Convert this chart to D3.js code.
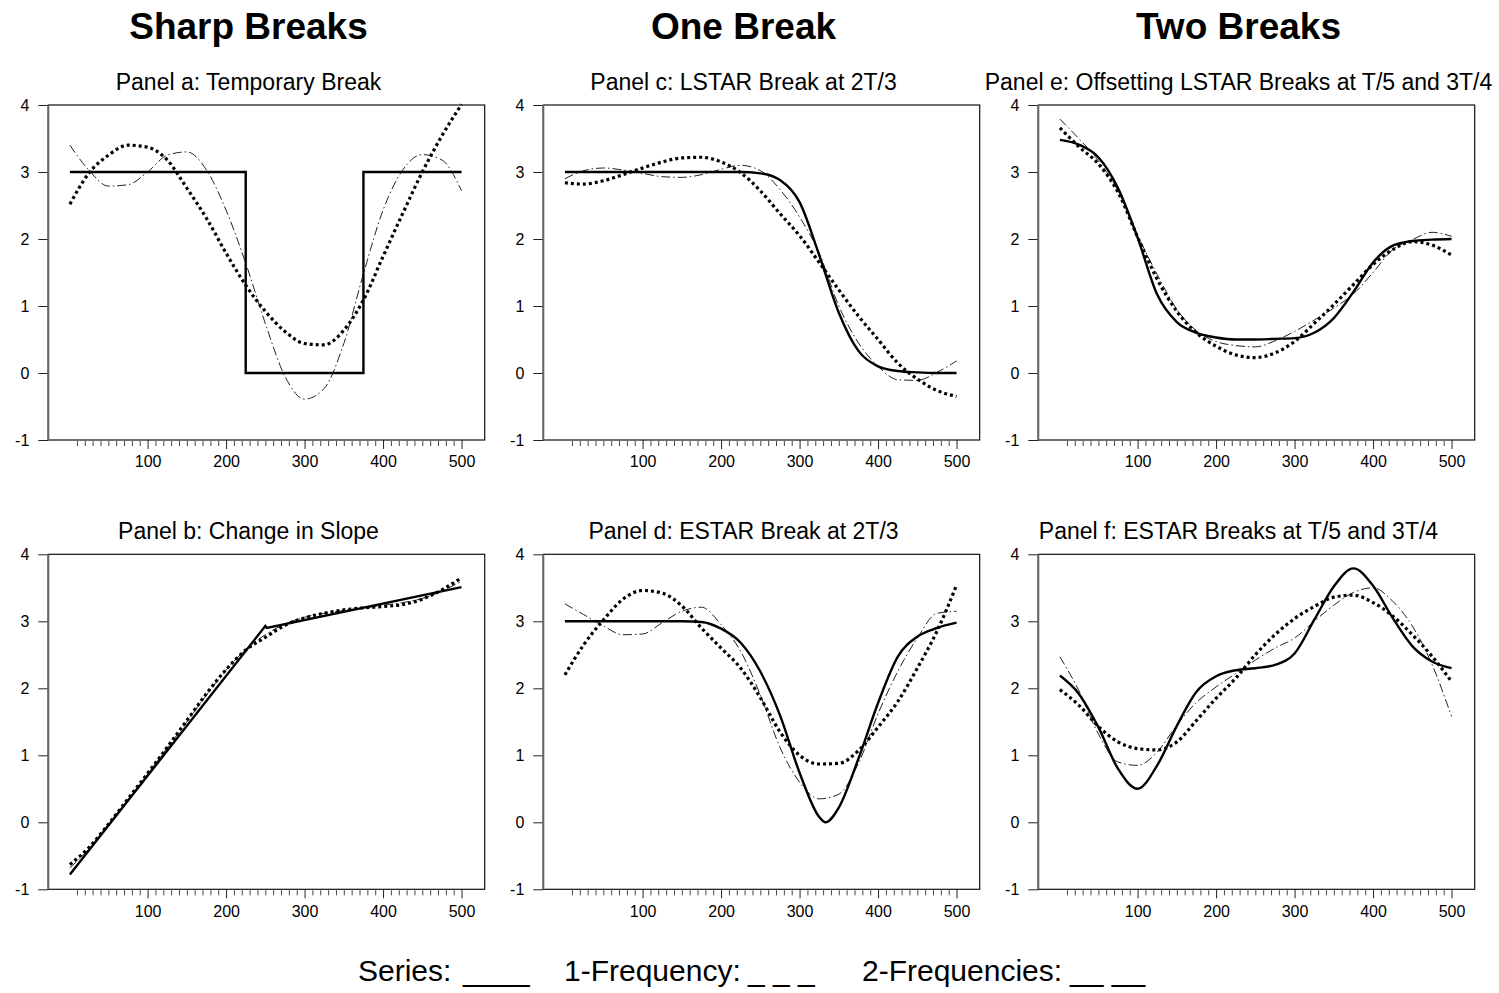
<!DOCTYPE html>
<html>
<head>
<meta charset="utf-8">
<script src="https://cdn.jsdelivr.net/npm/d3@7"></script>
<style>
    body { margin: 0; background: #fff; }
    svg { display: block; }
    text { font-family: "Liberation Sans", Arial, sans-serif; fill: #000; }
</style>
</head>
<body>
<div id="my_dataviz"></div>
<script>

/*************************************** Start --> Data ***************************************/
// column headings and panel titles
var columnTitles = ["Sharp Breaks", "One Break", "Two Breaks"];
var panelTitles = [
    "Panel a: Temporary Break",
    "Panel b: Change in Slope",
    "Panel c: LSTAR Break at 2T/3",
    "Panel d: ESTAR Break at 2T/3",
    "Panel e: Offsetting LSTAR Breaks at T/5 and 3T/4",
    "Panel f: ESTAR Breaks at T/5 and 3T/4"
];

var yTicks = [-1, 0, 1, 2, 3, 4];
var xMajorTicks = [100, 200, 300, 400, 500];

var tSteps = [1, 25, 50, 75, 100, 125, 150, 175, 200, 225, 250, 275, 300, 325, 350, 375, 400, 425, 450, 475, 500];

// Panel a
var a_seriesT = [1, 225, 225, 375, 375, 500];
var a_series  = [3, 3, 0, 0, 3, 3];
var a_freq1 = [2.52, 2.98, 3.25, 3.40, 3.37, 3.18, 2.76, 2.31, 1.79, 1.31, 0.92, 0.62, 0.44, 0.42, 0.64, 1.09, 1.74, 2.38, 3.00, 3.54, 4.01];
var a_freq2 = [3.40, 3.03, 2.79, 2.81, 3.00, 3.25, 3.30, 3.03, 2.43, 1.64, 0.74, -0.05, -0.39, -0.23, 0.44, 1.48, 2.43, 3.03, 3.26, 3.18, 2.72];

// Panel b
var b_seriesT = [1, 250, 252, 500];
var b_series  = [-0.78, 2.93, 2.90, 3.51];
var b_freq1 = [-0.63, -0.38, -0.03, 0.35, 0.73, 1.12, 1.52, 1.92, 2.28, 2.57, 2.76, 2.94, 3.05, 3.12, 3.17, 3.20, 3.22, 3.25, 3.33, 3.47, 3.65];
var b_freq2 = [-0.68, -0.40, -0.03, 0.34, 0.72, 1.11, 1.50, 1.90, 2.27, 2.58, 2.80, 2.96, 3.06, 3.12, 3.16, 3.20, 3.24, 3.28, 3.34, 3.45, 3.60];

// Panel c
var c_series = [3.00, 3.00, 3.00, 3.00, 3.00, 3.00, 3.00, 3.00, 3.00, 3.00, 2.98, 2.88, 2.55, 1.76, 0.90, 0.33, 0.10, 0.03, 0.01, 0.00, 0.00];
var c_freq1 = [2.84, 2.82, 2.87, 2.96, 3.06, 3.15, 3.21, 3.22, 3.15, 2.99, 2.72, 2.38, 2.05, 1.65, 1.24, 0.85, 0.50, 0.15, -0.09, -0.26, -0.35];
var c_freq2 = [2.90, 3.02, 3.06, 3.03, 2.98, 2.93, 2.92, 2.96, 3.04, 3.10, 3.02, 2.74, 2.33, 1.79, 1.00, 0.45, 0.10, -0.10, -0.11, 0.01, 0.18];

// Panel d
var d_seriesT = [1, 25, 50, 75, 100, 125, 150, 175, 200, 225, 250, 275, 300, 325, 333, 350, 375, 400, 425, 450, 475, 500];
var d_series = [3.00, 3.00, 3.00, 3.00, 3.00, 3.00, 3.00, 2.99, 2.89, 2.68, 2.25, 1.60, 0.74, 0.08, 0.00, 0.22, 0.95, 1.78, 2.47, 2.77, 2.90, 2.98];
var d_freq1 = [2.20, 2.65, 3.02, 3.33, 3.46, 3.42, 3.23, 2.90, 2.60, 2.30, 1.86, 1.35, 1.00, 0.87, 0.88, 1.07, 1.42, 1.80, 2.30, 2.85, 3.54];
var d_freq2 = [3.26, 3.10, 2.93, 2.80, 2.81, 2.98, 3.15, 3.21, 2.95, 2.55, 1.90, 1.12, 0.60, 0.35, 0.42, 0.88, 1.62, 2.25, 2.75, 3.12, 3.15];

// Panel e
var e_series = [3.48, 3.41, 3.22, 2.76, 2.02, 1.17, 0.76, 0.60, 0.53, 0.50, 0.50, 0.51, 0.52, 0.60, 0.82, 1.21, 1.65, 1.90, 1.97, 1.99, 2.00];
var e_freq1 = [3.66, 3.38, 3.12, 2.70, 2.03, 1.40, 0.92, 0.60, 0.40, 0.27, 0.23, 0.30, 0.47, 0.74, 1.02, 1.32, 1.62, 1.84, 1.96, 1.91, 1.76];
var e_freq2 = [3.79, 3.50, 3.17, 2.72, 2.06, 1.47, 0.95, 0.63, 0.47, 0.41, 0.39, 0.48, 0.62, 0.79, 0.97, 1.18, 1.50, 1.84, 1.99, 2.10, 2.04];

// Panel f
var f_series = [2.19, 1.92, 1.42, 0.80, 0.50, 0.85, 1.44, 1.95, 2.18, 2.27, 2.30, 2.35, 2.52, 3.02, 3.52, 3.79, 3.53, 3.05, 2.63, 2.40, 2.30];
var f_freq1 = [1.98, 1.75, 1.43, 1.20, 1.10, 1.08, 1.20, 1.52, 1.85, 2.15, 2.50, 2.80, 3.04, 3.22, 3.36, 3.39, 3.28, 3.08, 2.80, 2.48, 2.10];
var f_freq2 = [2.47, 1.97, 1.32, 0.90, 0.85, 1.05, 1.45, 1.79, 2.02, 2.22, 2.42, 2.60, 2.75, 3.00, 3.24, 3.43, 3.50, 3.30, 2.93, 2.36, 1.58];

// legend pieces
var legendLabels = ["Series:", "1-Frequency:", "2-Frequencies:"];
var legendMarks = ["____", "_ _ _", "__ __"];
/*************************************** End --> Data ***************************************/


function zip(ts, vs) {
    return ts.map(function (t, i) { return [t, vs[i]]; });
}

// panel list: column, row, series
var panels = [
    { col: 0, row: 0, title: panelTitles[0], s: zip(a_seriesT, a_series), smooth: false, f1: zip(tSteps, a_freq1), f2: zip(tSteps, a_freq2) },
    { col: 0, row: 1, title: panelTitles[1], s: zip(b_seriesT, b_series), smooth: false, f1: zip(tSteps, b_freq1), f2: zip(tSteps, b_freq2) },
    { col: 1, row: 0, title: panelTitles[2], s: zip(tSteps, c_series), smooth: true, f1: zip(tSteps, c_freq1), f2: zip(tSteps, c_freq2) },
    { col: 1, row: 1, title: panelTitles[3], s: zip(d_seriesT, d_series), smooth: true, f1: zip(tSteps, d_freq1), f2: zip(tSteps, d_freq2) },
    { col: 2, row: 0, title: panelTitles[4], s: zip(tSteps, e_series), smooth: true, f1: zip(tSteps, e_freq1), f2: zip(tSteps, e_freq2) },
    { col: 2, row: 1, title: panelTitles[5], s: zip(tSteps, f_series), smooth: true, f1: zip(tSteps, f_freq1), f2: zip(tSteps, f_freq2) }
];


/*************************************** Start --> Layout ***************************************/
var width = 1499, height = 993;
var colLeft = [48.3, 543.3, 1038.3];
var rowTop = [105, 554.3];
var plotW = 436.4, plotH = 335;

var svg = d3.select("#my_dataviz")
    .append("svg")
    .attr("width", width)
    .attr("height", height);

svg.append("rect")
    .attr("width", width)
    .attr("height", height)
    .attr("fill", "#fff");

var xScale = d3.scaleLinear().domain([-26.5, 529.5]).range([0, plotW]);
var yScale = d3.scaleLinear().domain([-1, 4]).range([plotH, 0]);

// column headings
columnTitles.forEach(function (t, i) {
    svg.append("text")
        .attr("x", colLeft[i] + plotW / 2 - 18)
        .attr("y", 39)
        .attr("text-anchor", "middle")
        .style("font-size", "37px")
        .style("font-weight", "bold")
        .text(t);
});
/*************************************** End --> Layout ***************************************/


/*************************************** Start --> Panels ***************************************/
var minorTicks = d3.range(10, 500, 10).filter(function (v) { return v % 100 !== 0; });
var plainNumber = function (d) { return String(d); };

panels.forEach(function (p) {
    var g = svg.append("g")
        .attr("transform", "translate(" + colLeft[p.col] + "," + rowTop[p.row] + ")");

    // title
    g.append("text")
        .attr("x", plotW / 2 - 18)
        .attr("y", -15)
        .attr("text-anchor", "middle")
        .style("font-size", "23px")
        .text(p.title);

    // minor x ticks
    var minorAxis = g.append("g")
        .attr("transform", "translate(0," + plotH + ")")
        .call(d3.axisBottom(xScale).tickValues(minorTicks).tickSize(5).tickFormat(""));
    minorAxis.select(".domain").remove();
    minorAxis.selectAll("line").attr("stroke", "#444").attr("transform", "translate(0,1)");

    // major x ticks
    var majorAxis = g.append("g")
        .attr("transform", "translate(0," + plotH + ")")
        .call(d3.axisBottom(xScale).tickValues(xMajorTicks).tickSize(9).tickPadding(7).tickFormat(plainNumber));
    majorAxis.select(".domain").remove();
    majorAxis.selectAll("line").attr("stroke", "#222");
    majorAxis.selectAll("text")
        .style("font-size", "16px")
        .style("font-family", "Liberation Sans, Arial, sans-serif")
        .attr("fill", "#000");

    // y ticks
    var yAxis = g.append("g")
        .call(d3.axisLeft(yScale).tickValues(yTicks).tickSize(10).tickPadding(9).tickFormat(plainNumber));
    yAxis.select(".domain").remove();
    yAxis.selectAll("line").attr("stroke", "#222");
    yAxis.selectAll("text")
        .style("font-size", "16px")
        .style("font-family", "Liberation Sans, Arial, sans-serif")
        .attr("fill", "#000");

    // frame
    g.append("rect")
        .attr("width", plotW)
        .attr("height", plotH)
        .attr("fill", "none")
        .attr("stroke", "#111")
        .attr("stroke-width", 1.2);
    g.append("line")
        .attr("x1", 0).attr("x2", 0)
        .attr("y1", 0).attr("y2", plotH)
        .attr("stroke", "#666")
        .attr("stroke-width", 2);

    var smoothLine = d3.line()
        .x(function (d) { return xScale(d[0]); })
        .y(function (d) { return yScale(d[1]); })
        .curve(d3.curveMonotoneX);
    var straightLine = d3.line()
        .x(function (d) { return xScale(d[0]); })
        .y(function (d) { return yScale(d[1]); });

    // 2-frequencies: thin dash-dot
    g.append("path")
        .attr("d", smoothLine(p.f2))
        .attr("fill", "none")
        .attr("stroke", "#222")
        .attr("stroke-width", 1)
        .attr("stroke-dasharray", "9,3,1.5,3");

    // 1-frequency: heavy dots
    g.append("path")
        .attr("d", smoothLine(p.f1))
        .attr("fill", "none")
        .attr("stroke", "#000")
        .attr("stroke-width", 3.2)
        .attr("stroke-dasharray", "3,3");

    // series: solid
    g.append("path")
        .attr("d", (p.smooth ? smoothLine : straightLine)(p.s))
        .attr("fill", "none")
        .attr("stroke", "#000")
        .attr("stroke-width", 2.4)
        .attr("stroke-linejoin", "miter");
});
/*************************************** End --> Panels ***************************************/


/*************************************** Start --> Legend ***************************************/
var legendLabelX = [358, 564, 862];
var legendMarkX = [463, 748, 1070];
legendLabels.forEach(function (t, i) {
    svg.append("text")
        .attr("x", legendLabelX[i])
        .attr("y", 981)
        .style("font-size", "30px")
        .text(t);
    svg.append("text")
        .attr("x", legendMarkX[i])
        .attr("y", 981)
        .attr("xml:space", "preserve")
        .style("white-space", "pre")
        .style("font-size", "30px")
        .text(legendMarks[i]);
});
/*************************************** End --> Legend ***************************************/

</script>
</body>
</html>
